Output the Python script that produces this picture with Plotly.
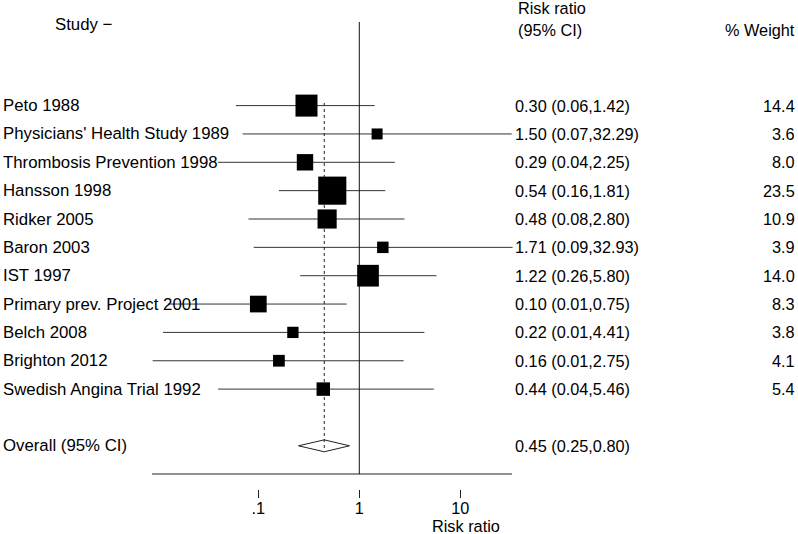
import math
import plotly.graph_objects as go

studies = ["Peto 1988", "Physicians' Health Study 1989", "Thrombosis Prevention 1998",
           "Hansson 1998", "Ridker 2005", "Baron 2003", "IST 1997",
           "Primary prev. Project 2001", "Belch 2008", "Brighton 2012",
           "Swedish Angina Trial 1992"]
rr = [0.30, 1.50, 0.29, 0.54, 0.48, 1.71, 1.22, 0.10, 0.22, 0.16, 0.44]
lower = [0.06, 0.07, 0.04, 0.16, 0.08, 0.09, 0.26, 0.0127, 0.0114, 0.009, 0.04]
upper = [1.42, 32.29, 2.25, 1.81, 2.80, 32.93, 5.80, 0.75, 4.41, 2.75, 5.46]
weight = [14.4, 3.6, 8.0, 23.5, 10.9, 3.9, 14.0, 8.3, 3.8, 4.1, 5.4]
overall = 0.45
overall_lo = 0.25
overall_hi = 0.80
tick_vals = [0.1, 1, 10]
tick_text = [".1", "1", "10"]

FONT = "Liberation Sans, Arial, sans-serif"
FS_LEFT = 16.8
FS = 16.3
W, H = 798, 534
B = 45
PH = H - B                   # plot height px
ROW0, ROWH = 105.6, 28.35    # px of first row, row spacing
X1PX, DEC = 359.3, 101.0     # px of x=1, px per decade

def px2row(py):
    return (py - ROW0) / ROWH

def px2paper_y(py):
    return 1 - py / PH

def px2paper_x(px):
    return px / W

def xpx2log(px):
    return (px - X1PX) / DEC

n = len(studies)
rows = list(range(n))
overall_row = n + 1
axis_row = px2row(474)

fig = go.Figure()

# CI lines
for i in rows:
    fig.add_trace(go.Scatter(x=[lower[i], upper[i]], y=[i, i], mode="lines",
                             line=dict(color="#333333", width=1), hoverinfo="skip",
                             showlegend=False))

# axis-like horizontal line
fig.add_trace(go.Scatter(x=[10 ** xpx2log(152), 10 ** xpx2log(512)],
                         y=[axis_row, axis_row], mode="lines",
                         line=dict(color="#222222", width=1), showlegend=False, hoverinfo="skip"))
# null line at 1
fig.add_trace(go.Scatter(x=[1, 1], y=[px2row(22), axis_row], mode="lines",
                         line=dict(color="#111111", width=1), showlegend=False, hoverinfo="skip"))

# diamond
dh = 0.21
fig.add_trace(go.Scatter(x=[overall_lo, overall, overall_hi, overall, overall_lo],
                         y=[overall_row, overall_row - dh, overall_row, overall_row + dh, overall_row],
                         mode="lines", fill="toself", fillcolor="white",
                         line=dict(color="#222222", width=1), showlegend=False, hoverinfo="skip"))

# dashed overall line
fig.add_trace(go.Scatter(x=[overall, overall], y=[px2row(103), px2row(451)], mode="lines",
                         line=dict(color="#222222", width=1, dash="3px,3px"),
                         showlegend=False, hoverinfo="skip"))

# squares
fig.add_trace(go.Scatter(x=rr, y=rows, mode="markers",
                         marker=dict(symbol="square", color="black", opacity=1,
                                     size=[5.8 * math.sqrt(w) for w in weight],
                                     line=dict(width=0)),
                         showlegend=False, cliponaxis=False))

ann = []
def txt(text, xpx, ypx=None, row=None, anchor="left", size=FS):
    d = dict(text=text, x=px2paper_x(xpx), xref="paper", xanchor=anchor,
             yanchor="middle", showarrow=False,
             font=dict(family=FONT, size=size, color="black"))
    if row is not None:
        d.update(y=row, yref="y")
    else:
        d.update(y=px2paper_y(ypx), yref="paper")
    ann.append(d)

for i in rows:
    txt(studies[i], 1, row=i, size=FS_LEFT)
    txt(f"{rr[i]:.2f} ({lower[i]:.2f},{upper[i]:.2f})", 513, row=i)
    txt(f"{weight[i]:.1f}", 797, row=i, anchor="right")

txt("Overall (95% CI)", 1, row=overall_row, size=FS_LEFT)
txt(f"{overall:.2f} ({overall_lo:.2f},{overall_hi:.2f})", 513, row=overall_row)

txt("Study \u2212", 53, ypx=24, size=FS_LEFT)
txt("Risk ratio", 516, ypx=8)
txt("(95% CI)", 516, ypx=30)
txt("% Weight", 797, ypx=30, anchor="right")
txt("Risk ratio", 466, ypx=526, anchor="center")

fig.update_layout(
    width=W, height=H,
    margin=dict(l=0, r=0, t=0, b=B, pad=0),
    paper_bgcolor="white", plot_bgcolor="white",
    annotations=ann,
    hovermode=False,
    xaxis=dict(type="log", range=[xpx2log(0), xpx2log(W)],
               tickvals=tick_vals, ticktext=tick_text, ticks="outside", ticklen=8,
               tickcolor="#222222", tickwidth=1, showline=False, showgrid=False,
               zeroline=False, ticklabelstandoff=-4,
               tickfont=dict(family=FONT, size=FS, color="black")),
    yaxis=dict(range=[px2row(PH), px2row(0)], visible=False,
               showgrid=False, zeroline=False),
)

fig.write_html("out.html", config={"displayModeBar": False},
               post_script="document.body.style.margin='0';document.body.style.overflow='hidden';")
